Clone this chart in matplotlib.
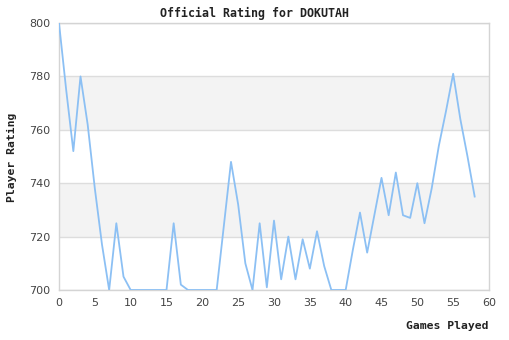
import matplotlib
matplotlib.use("Agg")
import matplotlib.pyplot as plt

games = list(range(59))
ratings = [800, 775, 752, 780, 762, 738, 717, 700, 725, 705,
           700, 700, 700, 700, 700, 700, 725, 702, 700, 700,
           700, 700, 700, 724, 748, 732, 710, 700, 725, 701,
           726, 704, 720, 704, 719, 708, 722, 709, 700, 700,
           700, 715, 729, 714, 728, 742, 728, 744, 728, 727,
           740, 725, 738, 754, 767, 781, 764, 750, 735]
y_ticks = [700, 720, 740, 760, 780, 800]
x_ticks = list(range(0, 61, 5))
bands = [(760, 780), (720, 740)]

fig = plt.figure(figsize=(5.1, 3.4), dpi=100)
ax = fig.add_axes([59/510, 1-290/340, 430/510, 267/340])
ax.set_xlim(0, 60)
ax.set_ylim(700, 800)
for lo, hi in bands:
    ax.axhspan(lo, hi, color="#f3f3f3", zorder=0, lw=0)
for t in y_ticks:
    ax.axhline(t, color="#dddddd", lw=1, zorder=1)
ax.plot(games, ratings, color="#8cc0f4", lw=1.3, zorder=3)
ax.set_xticks(x_ticks)
ax.set_yticks(y_ticks)
ax.tick_params(length=0, labelsize=8, colors="#444444", pad=6)
for s in ax.spines.values():
    s.set_color("#d4d4d4")
    s.set_linewidth(1)
fig.text(255/510, 1-13/340, "Official Rating for DOKUTAH", ha="center", va="center",
         family="DejaVu Sans Mono", fontweight="bold", fontsize=8.4, color="#222222")
fig.text(12/510, 1-157/340, "Player Rating", ha="center", va="center", rotation=90,
         family="DejaVu Sans Mono", fontweight="bold", fontsize=8.2, color="#222222")
fig.text(489/510, 1-326/340, "Games Played", ha="right", va="center",
         family="DejaVu Sans Mono", fontweight="bold", fontsize=8.2, color="#222222")
fig.savefig("out.png", dpi=100, facecolor="white")
